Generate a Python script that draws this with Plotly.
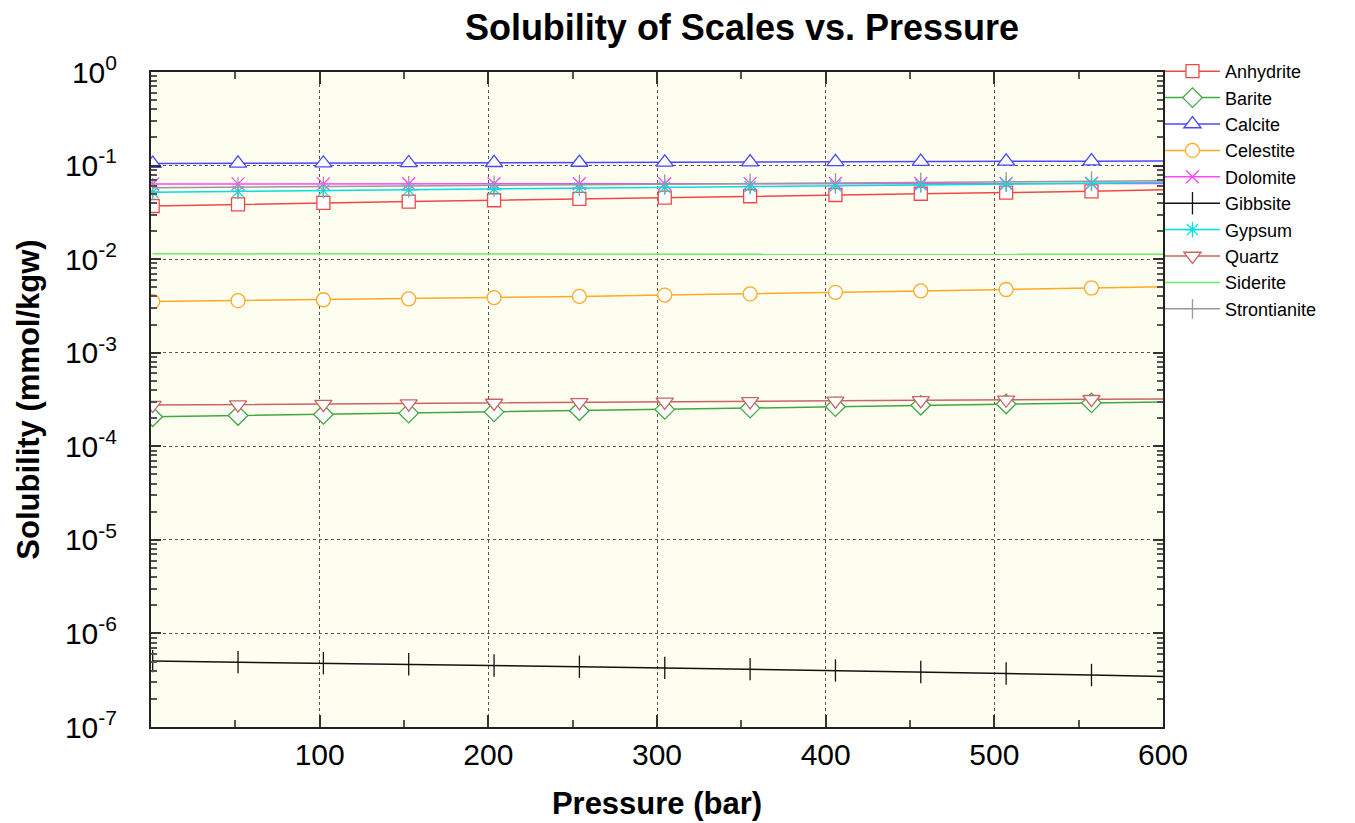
import plotly.graph_objects as go

# ---------------- data ----------------
pressure = [1, 51.6, 102.2, 152.8, 203.4, 254.0, 304.6, 355.2, 405.8, 456.4, 507.0, 557.6, 600]

anhydrite = [0.0370, 0.0385, 0.0399, 0.0412, 0.0426, 0.0441, 0.0455, 0.0470, 0.0485, 0.0500, 0.0515, 0.0530, 0.0550]
barite = [0.000207, 0.000213, 0.000219, 0.000226, 0.000233, 0.000240, 0.000248, 0.000256, 0.000265, 0.000274, 0.000283, 0.000291, 0.000298]
calcite = [0.1050, 0.1055, 0.1060, 0.1066, 0.1072, 0.1078, 0.1084, 0.1090, 0.1096, 0.1102, 0.1108, 0.1114, 0.1120]
celestite = [0.00352, 0.00360, 0.00368, 0.00377, 0.00388, 0.00400, 0.00413, 0.00425, 0.00442, 0.00458, 0.00474, 0.00492, 0.00508]
dolomite = [0.0636, 0.0637, 0.0637, 0.0638, 0.0639, 0.0640, 0.0640, 0.0641, 0.0642, 0.0643, 0.0643, 0.0644, 0.0645]
gibbsite = [5.06e-7, 4.94e-7, 4.81e-7, 4.68e-7, 4.54e-7, 4.41e-7, 4.28e-7, 4.15e-7, 4.02e-7, 3.87e-7, 3.73e-7, 3.59e-7, 3.47e-7]
gypsum = [0.0519, 0.0530, 0.0540, 0.0550, 0.0562, 0.0574, 0.0586, 0.0598, 0.0610, 0.0622, 0.0634, 0.0646, 0.0665]
quartz = [0.000276, 0.000279, 0.000282, 0.000286, 0.000290, 0.000294, 0.000298, 0.000302, 0.000306, 0.000310, 0.000314, 0.000318, 0.000321]
siderite = [0.01140, 0.01140, 0.01139, 0.01138, 0.01137, 0.01136, 0.01135, 0.01134, 0.01133, 0.01132, 0.01130, 0.01128, 0.01125]
strontianite = [0.0581, 0.0590, 0.0599, 0.0608, 0.0617, 0.0626, 0.0636, 0.0645, 0.0654, 0.0663, 0.0672, 0.0681, 0.0690]

series_names = ["Anhydrite", "Barite", "Calcite", "Celestite", "Dolomite",
                "Gibbsite", "Gypsum", "Quartz", "Siderite", "Strontianite"]
series_values = [anhydrite, barite, calcite, celestite, dolomite,
                 gibbsite, gypsum, quartz, siderite, strontianite]

x_tick_vals = [100, 200, 300, 400, 500, 600]
x_tick_text = ["100", "200", "300", "400", "500", "600"]
y_tick_vals = [1e-7, 1e-6, 1e-5, 1e-4, 1e-3, 1e-2, 1e-1, 1e0]
y_tick_text = ["10<sup>-7</sup>", "10<sup>-6</sup>", "10<sup>-5</sup>", "10<sup>-4</sup>",
               "10<sup>-3</sup>", "10<sup>-2</sup>", "10<sup>-1</sup>", "10<sup>0</sup>"]

# ---------------- styles ----------------
styles = {
    "Anhydrite":    dict(color="#f04848", symbol="square",        size=13, fill="white"),
    "Barite":       dict(color="#40a840", symbol="diamond",       size=15, fill="white"),
    "Calcite":      dict(color="#4848ff", symbol="triangle-up",   size=15, fill="white"),
    "Celestite":    dict(color="#ffaa22", symbol="circle",        size=14, fill="white"),
    "Dolomite":     dict(color="#ff44ff", symbol="x-thin",        size=13, fill=None),
    "Gibbsite":     dict(color="#111111", symbol="line-ns",       size=16, fill=None),
    "Gypsum":       dict(color="#00e0e0", symbol="asterisk",      size=13, fill=None),
    "Quartz":       dict(color="#c86464", symbol="triangle-down", size=15, fill="white"),
    "Siderite":     dict(color="#66ee66", symbol=None,            size=0,  fill=None),
    "Strontianite": dict(color="#999999", symbol="line-ns",       size=14, fill=None),
}

fig = go.Figure()
last = len(pressure) - 1

# unmarked tails of the curves (drawn first, underneath)
for name, vals in zip(series_names, series_values):
    st = styles[name]
    if st["symbol"] is None:
        continue
    fig.add_trace(go.Scatter(x=pressure[last - 1:], y=vals[last - 1:], name=name,
                             mode="lines", line=dict(color=st["color"], width=1.5),
                             legendgroup=name, showlegend=False))

# main curves
for rank, (name, vals) in enumerate(zip(series_names, series_values)):
    st = styles[name]
    line = dict(color=st["color"], width=1.5)
    if st["symbol"] is None:
        fig.add_trace(go.Scatter(x=pressure, y=vals, name=name, mode="lines",
                                 line=line, legendgroup=name, legendrank=rank + 1))
        continue
    marker = dict(symbol=st["symbol"], size=st["size"],
                  color=st["fill"] if st["fill"] else st["color"],
                  line=dict(color=st["color"], width=1.3))
    fig.add_trace(go.Scatter(x=pressure[:last], y=vals[:last], name=name,
                             mode="lines+markers", line=line, marker=marker,
                             legendgroup=name, legendrank=rank + 1))

font_family = "Liberation Sans, Arial, sans-serif"

# note: the page body adds an 8px offset, margins compensate for it
fig.update_layout(
    width=1355, height=823,
    margin=dict(l=143, r=200, t=64, b=104),
    paper_bgcolor="white",
    plot_bgcolor="#fefef0",
    font=dict(family=font_family, color="black"),
    title=dict(text="<b>Solubility of Scales vs. Pressure</b>",
               x=0.5417, xanchor="center", y=0.977, yanchor="middle",
               yref="container",
               font=dict(size=36, family=font_family)),
    showlegend=True,
    legend=dict(x=0.997, xanchor="left", y=1.029, yanchor="top",
                font=dict(size=18, family=font_family),
                bgcolor="rgba(0,0,0,0)",
                tracegroupgap=0, itemwidth=55),
)

fig.update_xaxes(
    range=[0, 600], automargin=False,
    tickmode="array", tickvals=x_tick_vals, ticktext=x_tick_text,
    ticks="inside", ticklen=12, tickwidth=1.5, tickcolor="#333",
    minor=dict(ticks="inside", ticklen=7, dtick=50, tick0=0, tickcolor="#555", showgrid=False),
    showline=True, linecolor="#222", linewidth=2, mirror="ticks",
    showgrid=True, gridcolor="#555", griddash="dot", gridwidth=1,
    zeroline=False,
    tickfont=dict(size=30, family=font_family),
    ticklabelstandoff=0,
    title=dict(text="<b>Pressure (bar)</b>", font=dict(size=31, family=font_family), standoff=22),
)

fig.update_yaxes(
    type="log", range=[-7, 0], automargin=False,
    tickmode="array", tickvals=y_tick_vals, ticktext=y_tick_text,
    ticks="inside", ticklen=10, tickwidth=1.5, tickcolor="#333",
    minor=dict(ticks="inside", ticklen=6, dtick="D1", tickcolor="#555", showgrid=False),
    showline=True, linecolor="#222", linewidth=2, mirror="ticks",
    showgrid=True, gridcolor="#555", griddash="dot", gridwidth=1,
    zeroline=False,
    tickfont=dict(size=30, family=font_family),
    ticklabelstandoff=26,
    title=dict(text="<b>Solubility (mmol/kgw)</b>", font=dict(size=31, family=font_family), standoff=16),
)

fig.write_html("out.html")
